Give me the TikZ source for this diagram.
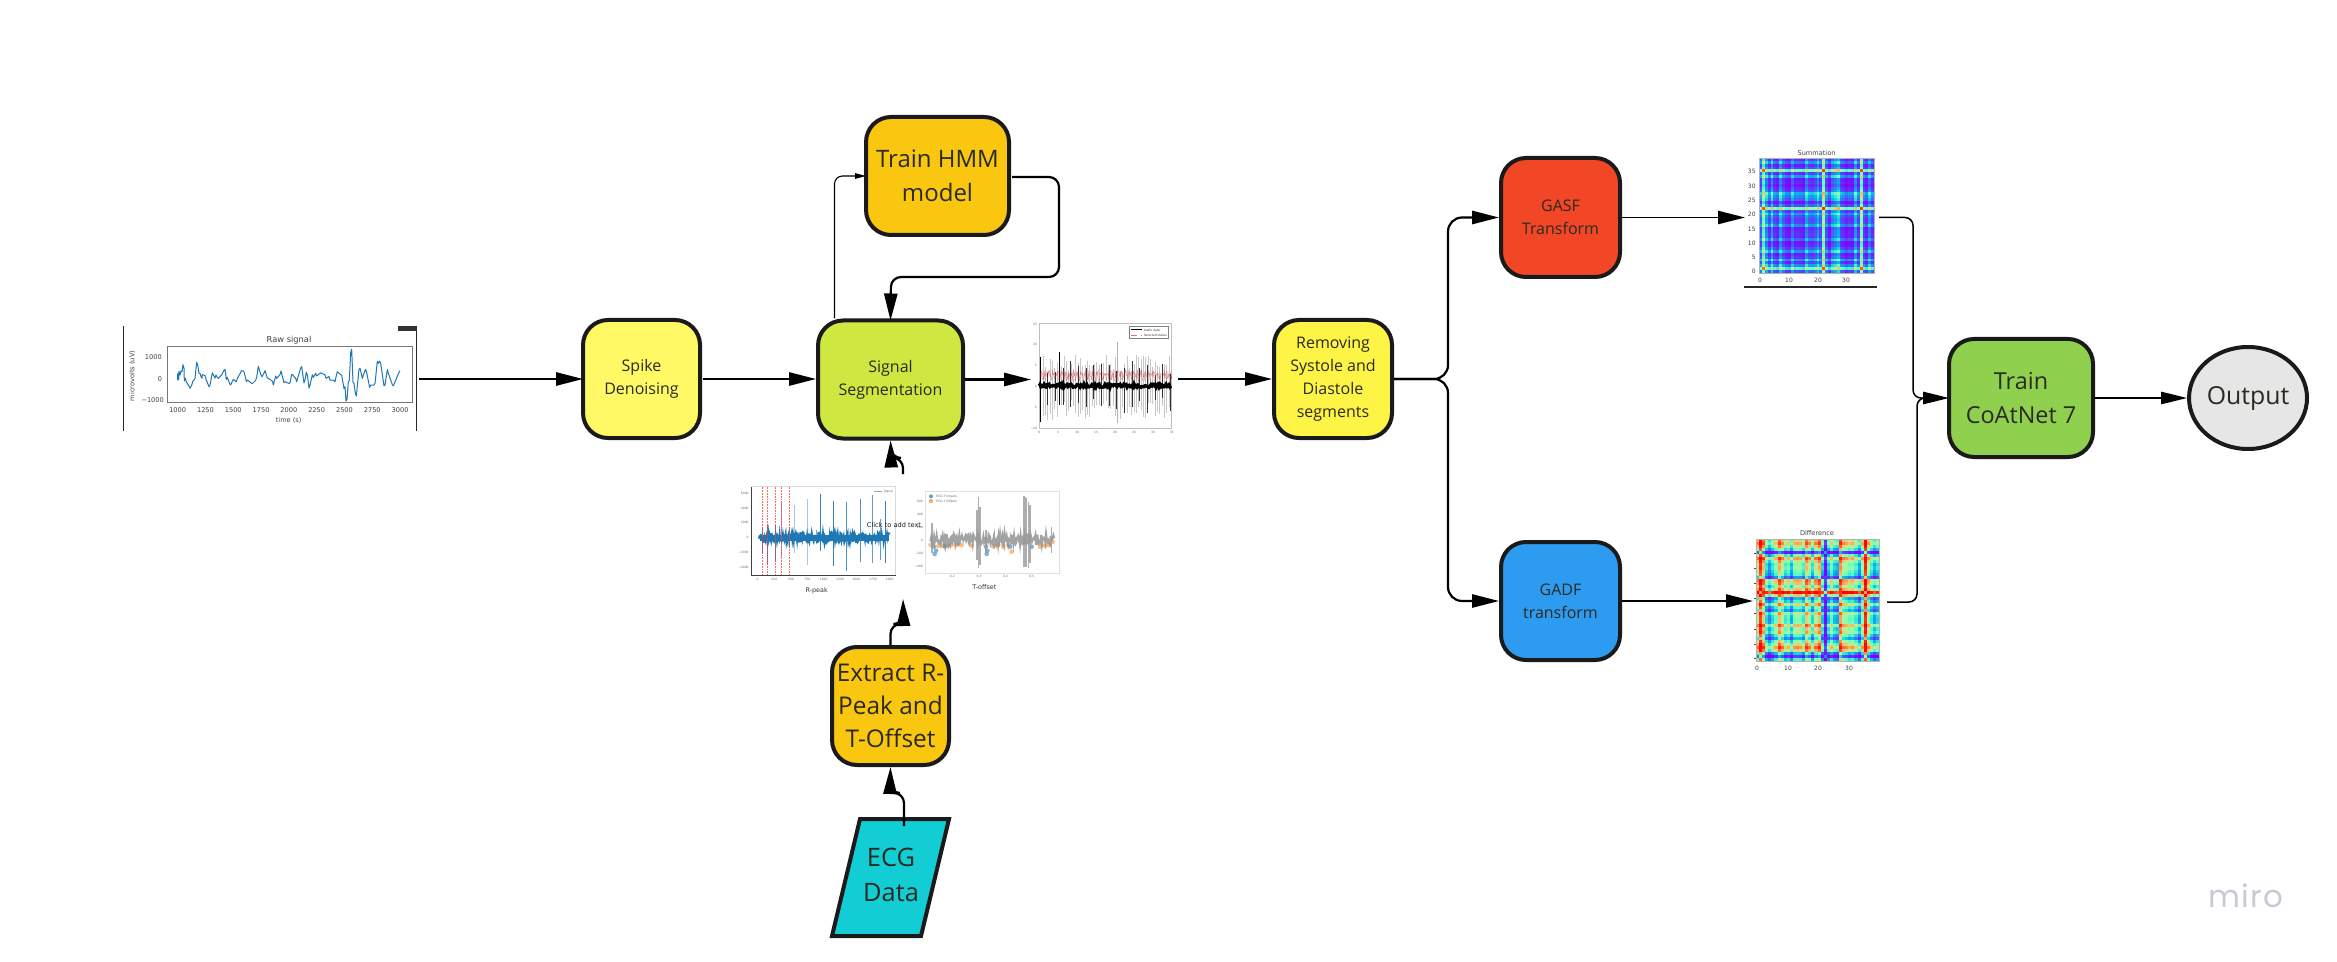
\documentclass[tikz,border=0pt]{standalone}
\usepackage{fontspec}
\setmainfont{Open Sans}
\newfontfamily\plotf{DejaVu Sans}
\newfontfamily\mirof[LetterSpace=4]{Poppins}
\usetikzlibrary{arrows.meta,shapes.geometric}
\definecolor{edgeC}{HTML}{1A1A1A}
\definecolor{inkC}{HTML}{2A2A20}
\definecolor{spikeC}{HTML}{FFF966}
\definecolor{segC}{HTML}{CEE741}
\definecolor{hmmC}{HTML}{FAC710}
\definecolor{ecgC}{HTML}{12CDD4}
\definecolor{remC}{HTML}{FEF445}
\definecolor{gasfC}{HTML}{F24726}
\definecolor{gadfC}{HTML}{2D9BF0}
\definecolor{trainC}{HTML}{8FD14F}
\definecolor{outC}{HTML}{E6E6E6}
\definecolor{mplblue}{HTML}{1F77B4}
\definecolor{mplorange}{HTML}{FF7F0E}
\definecolor{axisC}{HTML}{777777}
\definecolor{miroC}{HTML}{C8C9D4}
\def\ser{{.35,.92,.55,-.2,-.5,-.2,.1,.6,.3,-.1,.05,-.35,.15,.2,.15,-.1,.55,.3,-.2,.35,.6,-.3,-.97,-.3,.05,-.3,-.4,.7,.3,.2,.05,.15,-.1,-.45,.2,.95,.25,-.1,-.4,-.2}}
\def\sers{{.40,.93,.60,.25,.68,.25,.14,.64,.35,.14,.08,.50,.20,.25,.20,.14,.60,.35,.30,.40,.64,.35,.975,.40,.08,.50,.60,.73,.35,.25,.08,.20,.14,.64,.25,.955,.30,.14,.55,.25}}
\newcommand\rbfill[5]{%
  \pgfmathsetmacro\rbv{max(0,min(1,#5))}%
  \pgfmathsetmacro\rbr{min(1,abs(2*\rbv-.5))}%
  \pgfmathsetmacro\rbg{max(0,sin(180*\rbv))}%
  \pgfmathsetmacro\rbb{max(0,cos(90*\rbv))}%
  \definecolor{rbc}{rgb}{\rbr,\rbg,\rbb}%
  \fill[rbc] (#1,#2) rectangle ++(#3,#4);}
\tikzset{
  x=0.5pt,y=-0.5pt,
  box/.style={draw=edgeC,line width=2pt,rounded corners=12.5pt,outer sep=0pt,inner sep=0pt,align=center,text=inkC},
  small/.style={font=\fontsize{8}{11.5}\selectfont},
  big/.style={font=\fontsize{11.7}{17.2}\selectfont},
  holder/.style={inner sep=0pt,outer sep=0pt},
  conn/.style={line width=1.1pt,black,rounded corners=5pt,-{Triangle[length=13.5pt,width=6.6pt]}},
  thinconn/.style={line width=.55pt,black,rounded corners=4pt,-{Triangle[length=5.5pt,width=2.8pt]}},
  midconn/.style={line width=.75pt,black,rounded corners=4pt,-{Triangle[length=13pt,width=6.2pt]}},
  plainl/.style={line width=.75pt,black,rounded corners=4pt},
  tick/.style={text=black!75,inner sep=0pt,font=\plotf\fontsize{3.3}{4}\selectfont},
  smalltick/.style={text=black!75,inner sep=0pt,font=\plotf\fontsize{3}{4}\selectfont},
  tinyt/.style={text=black!60,inner sep=0pt,font=\plotf\fontsize{1.5}{2}\selectfont},
  caption/.style={text=black!80,inner sep=0pt,font=\plotf\fontsize{3.2}{4}\selectfont},
}
\begin{document}
\begin{tikzpicture}
\useasboundingbox (0,0) rectangle (2337,962);
\fill[white] (0,0) rectangle (2337,962);
% ---------- process boxes
\node[box,small,fill=spikeC,minimum width=58.5pt,minimum height=59pt] (spike) at (641.5,379) {Spike\\Denoising};
\node[box,small,fill=segC,minimum width=72.5pt,minimum height=59pt] (seg) at (890.5,379.5) {Signal\\Segmentation};
\node[box,font=\fontsize{12}{17.2}\selectfont,fill=hmmC,minimum width=71.5pt,minimum height=59pt] (hmm) at (937.5,176) {Train HMM\\model};
\node[box,font=\fontsize{12.2}{16.6}\selectfont,fill=hmmC,minimum width=58.5pt,minimum height=59pt] (extract) at (890.5,706) {Extract R-\\Peak and\\T-Offset};
\node[box,small,fill=remC,minimum width=59pt,minimum height=59pt] (rem) at (1333,379) {Removing\\Systole and\\Diastole\\segments};
\node[box,small,fill=gasfC,minimum width=59.5pt,minimum height=59.5pt] (gasf) at (1560.5,217.5) {GASF\\Transform};
\node[box,small,fill=gadfC,minimum width=59.5pt,minimum height=59pt] (gadf) at (1560.5,601) {GADF\\transform};
\node[box,big,fill=trainC,minimum width=72pt,minimum height=59pt] (train) at (2021,398) {Train\\CoAtNet 7};
\node[draw=edgeC,line width=2pt,ellipse,fill=outC,minimum width=59pt,minimum height=51pt,inner sep=0pt,outer sep=0pt,text=inkC,font=\fontsize{12.4}{17}\selectfont] (output) at (2248,398) {Output};
% ECG parallelogram
\draw[line width=2pt,draw=edgeC,fill=ecgC,line join=miter] (860,819) -- (949,819) -- (921,936) -- (832,936) -- cycle;
\node[holder,font=\fontsize{12.7}{17.4}\selectfont,align=center,text=inkC] (ecg) at (891,875) {ECG\\Data};
\coordinate (ecgTop) at (904,826);
% ---------- raw signal
\node[holder,minimum width=147pt,minimum height=52.5pt] (rawimg) at (270,379) {};
\draw[line width=.45pt,black!85] (123.5,326) -- (123.5,431) (416,326) -- (416,431);
\fill[black!80] (398,326) rectangle (416.5,331);
\begin{scope}[shift={(100,300)},x=.16667pt,y=-.16667pt]
\draw[axisC,line width=.45pt] (202,140) rectangle (937,306);
\pgfmathsetseed{5}
\draw[mplblue,line width=.5pt,line join=round] (233,220) \foreach \x/\y in {236/240,240/225,246/215,252/205,256/235,262/250,270/265,278/245,285/235,293/195,300/220,306/235,310/225,318/238,330/255,340/225,348/225,355/235,365/225,375/208,382/232,392/255,400/238,412/235,424/212,432/215,442/240,458/250,470/232,478/210,486/230,495/212,505/235,520/255,530/235,543/213,555/245,570/248,578/225,590/245,605/200,615/240,622/225,630/255,640/232,650/228,665/220,678/235,690/240,705/245,712/215,725/225,735/260,741/298,748/240,755/148,762/250,769/288,780/205,790/225,800/218,812/255,825/250,835/190,842/190,855/255,865/220,880/258,900/212}{ -- ({\x-3},{\y+12*rand}) -- (\x,\y)};
\node[holder,text=black!75,font=\plotf\fontsize{4.15}{5}\selectfont] (rawtitle) at (567,120) {Raw signal};
\foreach \n/\k in {1000/0,1250/1,1500/2,1750/3,2000/4,2250/5,2500/6,2750/7,3000/8}
  \node[tick] (rx\k) at ({233+83.4*\k},331) {\n};
\node[tick] (ry1) at (160,170) {1000};
\node[tick] (ry2) at (180,236) {0};
\node[tick] (ry3) at (158,300) {−1000};
\node[tick] (rxl) at (566,360) {time (s)};
\node[tick,rotate=90] (ryl) at (97,228) {microvolts (uV)};
\end{scope}
% ---------- R-peak panel
\node[holder,minimum width=72pt,minimum height=44pt] (rimg) at (824,531) {};
\begin{scope}[shift={(730,430)},x=.16667pt,y=-.16667pt]
\pgfmathsetseed{11}
\foreach \x/\a/\b/\o in {97/290/372/.9,113/285/405/.9,137/285/395/.9,153/215/380/.55,178/290/355/.9,192/226/370/.4,232/208/405/.4,258/300/342/.6,271/192/362/.9,310/212/408/.9,350/216/423/.8,390/208/395/.8,428/195/400/.7,452/268/390/.7,466/212/400/.9}
  \draw[mplblue,line width=.5pt,opacity=\o] (\x,\a) -- (\x,\b);
\fill[mplblue] (90,314) rectangle (478,332);
\draw[mplblue,line width=.9pt] (85,323) \foreach \x in {87,89,...,479}{ -- (\x,{323+17*rand})};
\foreach \x in {97,113,137,153,178}
  \draw[red!75,line width=.22pt,dash pattern=on .9pt off .5pt,opacity=.8] (\x,172) -- (\x,436);
\draw[black!15,line width=.4pt] (65,170) -- (497,170) -- (497,436);
\draw[black!75,line width=.45pt] (65,170) -- (65,436) -- (497,436);
\draw[mplblue!60,line width=.3pt] (432,184) -- (455,184);
\node[tinyt,anchor=west] (rleg) at (460,184) {Signal};
\foreach \t/\y in {6000/190,4000/234,2000/278,0/323,−2000/367,−4000/412}
  \node[tinyt,anchor=east] at (57,\y) {\t};
\foreach \t/\x in {0/83,250/133,500/183,750/232,1000/281,1250/330,1500/379,1750/429,2000/479}
  \node[tinyt] at (\x,447) {\t};
\node[caption] (rcap) at (260,481) {R-peak};
\end{scope}
% ---------- T-offset panel
\node[holder,minimum width=72pt,minimum height=44pt] (timg) at (990,531) {};
\begin{scope}[shift={(730,430)},x=.16667pt,y=-.16667pt]
\pgfmathsetseed{7}
\draw[black!12,line width=.3pt] (587,185) rectangle (988,430);
\foreach \x/\y in {602/345,625/348,640/348,655/347,665/345,680/345,695/345,725/347,790/350,805/345,820/350,835/345,845/365,930/350,945/347,955/345,968/335}
  \fill[mplorange!70,opacity=.75] (\x,\y) circle (7);
\foreach \x/\y in {612/350,614/372,618/362,645/348,768/350,770/372,772/362,840/350,905/350}
  \fill[mplblue!70,opacity=.8] (\x,\y) circle (7);
\draw[black!45,line width=1.1pt,opacity=.8] (600,330) \foreach \x in {602,604,...,972}{ -- (\x,{328+15*rand})};
\foreach \x/\a/\b in {606/280/370,745/200/415,741/240/390,750/230/405,882/198/410,886/200/412,890/205/410,895/215/415,900/225/400,768/300/365,965/290/370}
  \draw[black!40,line width=.6pt,opacity=.8] (\x,\a) -- (\x,\b);
\fill[white,opacity=.8] (592,190) rectangle (688,220);
\fill[mplblue!70] (603,199) circle (6);
\fill[mplorange!70] (603,213) circle (6);
\node[tinyt,anchor=west] (tl1) at (618,198) {ECG T Onsets};
\node[tinyt,anchor=west] (tl2) at (618,213) {ECG T Offsets};
\foreach \t/\y in {600/215,400/253,200/292,0/331,−200/370,−400/408}
  \node[tinyt,anchor=east] at (580,\y) {\t};
\foreach \t/\x in {0.2/667,0.3/747,0.4/826,0.5/905}
  \node[tinyt] at (\x,438) {\t};
\node[caption] (tcap) at (763,470) {T-offset};
\node[holder,text=black!90,font=\plotf\fontsize{3.3}{4}\selectfont] (click) at (492,285) {Click to add text};
\end{scope}
% ---------- segmented signal panel
\node[holder,minimum width=73.5pt,minimum height=59.5pt] (segimg) at (1104.5,379.5) {};
\begin{scope}[shift={(1020,300)},x=.16667pt,y=-.16667pt]
\pgfmathsetseed{23}
\draw[black!25,line width=.3pt] (58,70) rectangle (455,384);
\foreach \x in {62,69,...,452}
  \draw[black!22,line width=.35pt] (\x,{215-rnd*50}) -- (\x,{300+rnd*60});
\foreach \x in {60,83,...,452}
  \draw[black!80,line width=.35pt] (\x,{225-rnd*45}) -- (\x,{290+rnd*50});
\draw[black!30,line width=.6pt] (293,125) -- (293,370);
\draw[black,line width=.5pt] (118,157) -- (118,315);
\draw[black,line width=.5pt] (60,172) -- (60,365);
\foreach \x in {60,64,...,452}
  \draw[red!75!black,line width=.28pt,opacity=.5] (\x,{208+rnd*14}) -- (\x+3,{224+rnd*22});
\draw[black,line width=1.7pt] (58,257) \foreach \x in {60,63,...,455}{ -- (\x,{257+5*rand})};
\fill[white] (328,80) rectangle (445,115);
\draw[black!50,line width=.2pt] (328,80) rectangle (445,115);
\draw[black,line width=.25pt] (333,88) -- (366,88);
\draw[red!60,line width=.2pt,densely dashed] (333,105) -- (366,105);
\node[tinyt,anchor=west,text=black!80] (sl1) at (370,90) {Audio data};
\node[tinyt,anchor=west,text=black!80] (sl2) at (370,105) {Selected states};
\foreach \t/\y in {25/72,20/133,5/196,0/258,5/321,−20/384}
  \node[tinyt,anchor=east] at (52,\y) {\t};
\foreach \t/\x in {0/58,5/115,10/172,15/228,20/285,25/342,30/399,35/455}
  \node[tinyt] at (\x,396) {\t};
\end{scope}
% ---------- summation and difference heat maps
\node[holder,minimum width=66.5pt,minimum height=70pt] (sumimg) at (1811.5,220) {};
\foreach \i in {0,...,39}{
  \pgfmathsetmacro\xi{\ser[\i]}
  \pgfmathsetmacro\yi{sqrt(1-\xi*\xi)}
  \pgfmathsetmacro\si{\sers[\i]}
  \pgfmathsetmacro\ti{sqrt(1-\si*\si)}
  \foreach \j in {0,...,39}{
    \pgfmathsetmacro\sj{\sers[\j]}
    \pgfmathsetmacro\val{0.5+0.5*(\si*\sj-\ti*sqrt(1-\sj*\sj))}
    \rbfill{1759+2.875*\j}{273-2.875*\i-3.3}{3.3}{3.3}{\val}
    \pgfmathsetmacro\xj{\ser[\j]}
    \pgfmathsetmacro\val{0.5+0.5*(\yi*\xj-\xi*sqrt(1-\xj*\xj))}
    \rbfill{1756+3.075*\j}{661-3.05*\i-3.5}{3.5}{3.5}{\val}
  }
}
\draw[black!30,line width=.3pt] (1759,158) rectangle (1874,273);
\draw[black!30,line width=.3pt] (1756,539) rectangle (1879,661);
\node[holder,text=black!75,font=\plotf\fontsize{3.3}{4}\selectfont] (sumtitle) at (1816.5,153) {Summation};
\foreach \t/\y in {35/171,30/186,25/200,20/214,15/229,10/243,5/257,0/271}
  \node[smalltick,anchor=east] at (1756,\y) {\t};
\foreach \t/\x in {0/1760,10/1789,20/1818,30/1846}
  \node[smalltick] at (\x,280) {\t};
\draw[black!85,line width=1pt] (1744,287.5) -- (1877,287.5);
\node[holder,minimum width=66pt,minimum height=70pt] (diffimg) at (1820,601) {};
\node[holder,text=black!75,font=\plotf\fontsize{3.3}{4}\selectfont] (difftitle) at (1817,533) {Difference};
\foreach \y in {553,568,583,598,613,629,644,658}
  \draw[black!70,line width=.3pt] (1754,\y) -- (1756,\y);
\foreach \t/\x in {0/1757,10/1788,20/1818,30/1849}
  \node[smalltick] at (\x,668) {\t};
% ---------- miro mark
\node[holder,text=miroC,anchor=base,font=\mirof\fontsize{15.5}{20}\selectfont] (miro) at (2246,907) {miro};
% ---------- connectors
\draw[conn] (rawimg.east) ++(2,0) -- (spike.west);
\draw[conn,shorten >=1pt] (spike.east) ++(3,0) -- (seg.west |- spike.east);
\draw[conn] (seg.east) ++(2,0) -- (segimg.west);
\draw[conn,shorten >=1pt] (segimg.east |- rem.west) -- (rem.west);
\draw[thinconn] (seg.north) ++(-56,-2) |- (hmm.west);
\draw[conn] (hmm.east) ++(3,1) -- ++(47,0) |- (891,277) -- (seg.north);
\draw[conn,shorten >=1pt] (rimg.east) ++(7,-57) -- ++(0,-16) -- ++(-12,0) -- (seg.south);
\draw[conn,shorten >=1pt] (extract.north) ++(0,-2) -- ++(0,-21) -- ++(13,0) -- (903,597);
\draw[conn,shorten >=1pt] (ecgTop) -- ++(0,-33) -- ++(-14,0) -- (extract.south);
\draw[conn,rounded corners=7pt,shorten >=1pt] (rem.east) ++(2,0) -- ++(54,0) |- (gasf.west);
\draw[conn,rounded corners=7pt,shorten >=1pt] (rem.east) ++(2,0) -- ++(54,0) |- (gadf.west);
\draw[conn,line width=.8pt] (gasf.east) ++(2,0) -- (sumimg.west |- gasf.east);
\draw[conn,line width=.8pt] (gadf.east) ++(2,0) -- (1753,601);
\draw[plainl] (sumimg.east |- gasf.east) ++(1,0) -| (1913,398) -- (1925,398);
\draw[midconn] (diffimg.east) ++(1,1) -| (1917,398) -- (train.west);
\draw[midconn,shorten >=1pt] (train.east) ++(2,0) -- (output.west);
\end{tikzpicture}
\end{document}
